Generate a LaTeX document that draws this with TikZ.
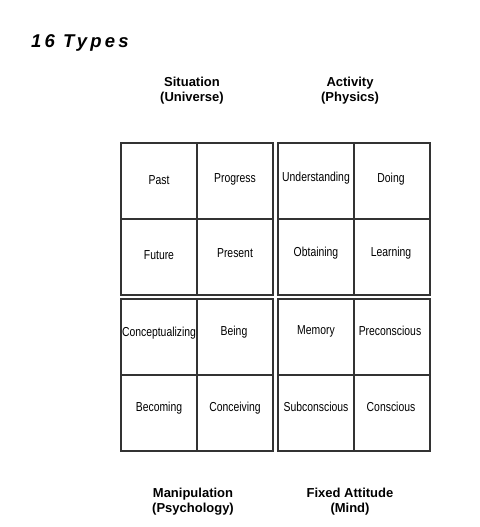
\documentclass[tikz,border=0pt]{standalone}
\usepackage{fontspec}
\setmainfont{Liberation Sans}
\newfontfamily\cellfont[FakeStretch=0.8]{Liberation Sans}
\newfontfamily\titlefont[LetterSpace=17]{Liberation Sans}
\begin{document}
\begin{tikzpicture}[x=1pt,y=-1pt,
  cell/.style={draw=black!80,line width=1.1pt,fill=white,minimum width=76pt,minimum height=76pt,inner sep=0pt},
  celltext/.style={font=\cellfont\fontsize{13}{15}\selectfont,inner sep=0pt},
  head/.style={font=\bfseries\fontsize{13}{15}\selectfont,align=center,inner sep=0pt},
  title/.style={font=\titlefont\bfseries\itshape\fontsize{18.5}{22}\selectfont,anchor=base west,inner sep=0pt}]
\useasboundingbox[fill=white] (0,0) rectangle (479,527);

\node[title] (ttl) at (31,48) {16 Types};

% quadrant headings
\node[head] (hsit) at (192,90.5) {Situation\\(Universe)};
\node[head] (hact) at (350,90.5) {Activity\\(Physics)};
\node[head] (hman) at (193,502) {Manipulation\\(Psychology)};
\node[head] (hfix) at (350,502) {Fixed Attitude\\(Mind)};

% Situation block
\node[cell] (c11) at (159,181) {};
\node[cell] (c12) at (235,181) {};
\node[cell] (c21) at (159,257) {};
\node[cell] (c22) at (235,257) {};
% Activity block
\node[cell] (c13) at (316,181) {};
\node[cell] (c14) at (392,181) {};
\node[cell] (c23) at (316,257) {};
\node[cell] (c24) at (392,257) {};
% Manipulation block
\node[cell] (c31) at (159,337) {};
\node[cell] (c32) at (235,337) {};
\node[cell] (c41) at (159,413) {};
\node[cell] (c42) at (235,413) {};
% Fixed Attitude block
\node[cell] (c33) at (316,337) {};
\node[cell] (c34) at (392,337) {};
\node[cell] (c43) at (316,413) {};
\node[cell] (c44) at (392,413) {};

% cell labels
\node[celltext] (t11) at (159,180) {Past};
\node[celltext] (t12) at (235,179) {Progress};
\node[celltext] (t13) at (316,178) {Understanding};
\node[celltext] (t14) at (391,179) {Doing};
\node[celltext] (t21) at (159,255) {Future};
\node[celltext] (t22) at (235,253) {Present};
\node[celltext] (t23) at (316,253) {Obtaining};
\node[celltext] (t24) at (391,253) {Learning};
\node[celltext] (t31) at (159,333) {Conceptualizing};
\node[celltext] (t32) at (234,332) {Being};
\node[celltext] (t33) at (316,331) {Memory};
\node[celltext] (t34) at (390,331) {Preconscious};
\node[celltext] (t41) at (159,408) {Becoming};
\node[celltext] (t42) at (235,408) {Conceiving};
\node[celltext] (t43) at (316,407) {Subconscious};
\node[celltext] (t44) at (391,407) {Conscious};
\end{tikzpicture}
\end{document}
